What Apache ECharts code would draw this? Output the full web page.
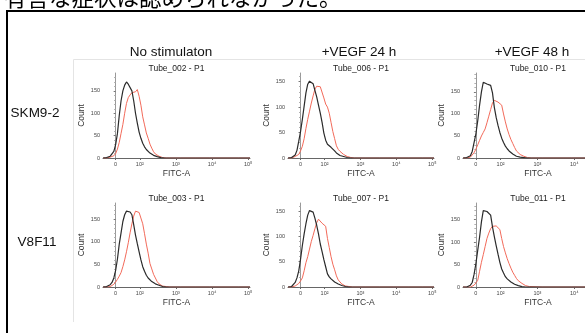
<!DOCTYPE html>
<html><head><meta charset="utf-8">
<script src="https://cdn.jsdelivr.net/npm/echarts@6/dist/echarts.min.js"></script>
<style>html,body{margin:0;padding:0;background:#fff}#c{width:585px;height:333px}</style>
</head><body><div id="c"></div>
<script>
// shared FITC-A display-scale bins (0 = "0", 0.67 = 10^2, 1.67 = 10^3 ...)
const bins = [-0.35,-0.30,-0.25,-0.20,-0.15,-0.10,-0.05,0.00,0.05,0.10,0.15,0.20,0.25,0.30,0.35,0.40,0.45,0.50,0.55,0.60,0.65,0.70,0.75,0.80,0.85,0.90,0.95,1.00,1.05,1.10,1.15,1.20,1.25,1.30,1.35,1.40,1.45,1.50,1.80,2.20,2.60,3.00,3.40,3.72];
const xTickValues = [0, 0.67, 1.67, 2.67, 3.67];
const xTickLabels = ['0','10²','10³','10⁴','10⁵'];
const yTickValues = [0, 50, 100, 150];

const tube002Black = [0,0,1,2,4,8,15,30,55,95,128,150,163,170,165,162,150,128,100,78,58,44,33,25,19,15,11,8,6,4,3,2,1,1,0,0,0,0,0,0,0,0,0,0];
const tube002Red   = [0,0,0,1,2,3,5,10,20,35,55,75,100,122,135,141,146,150,148,153,138,118,92,74,56,44,31,22,14,9,6,4,2,1,1,0,0,0,0,0,0,0,0,0];
const tube006Black = [0,0,1,2,6,15,33,52,76,102,128,145,151,150,146,133,120,104,88,70,49,35,27,24,21,18,14,10,7,5,4,3,2,1,1,0,0,0,0,0,0,0,0,0];
const tube006Red   = [0,0,0,2,3,5,7,14,23,38,58,76,92,108,122,135,141,143,140,137,118,106,100,88,70,52,38,24,17,13,10,7,5,3,1,1,0,0,0,0,0,0,0,0];
const tube010Black = [0,0,1,3,5,15,35,55,85,120,150,172,170,168,167,165,148,115,92,74,58,45,35,27,21,16,12,9,7,4,3,2,1,1,0,0,0,0,0,0,0,0,0,0];
const tube010Red   = [0,0,0,1,2,4,12,20,30,40,50,58,66,80,95,110,125,131,132,127,130,120,100,82,66,53,42,33,24,16,12,8,6,4,2,1,0,0,0,0,0,0,0,0];
const tube003Black = [0,0,1,2,5,10,20,37,62,95,120,145,160,168,171,166,160,138,115,96,78,60,45,35,26,20,16,12,9,7,5,4,2,1,1,0,0,0,0,0,0,0,0,0];
const tube003Red   = [0,0,0,0,1,3,6,11,17,24,32,45,60,78,98,120,140,157,168,170,165,168,140,118,95,75,52,40,28,20,12,7,4,2,1,1,0,0,0,0,0,0,0,0];
const tube007Black = [0,0,1,4,9,18,32,55,82,105,125,142,151,150,148,136,122,105,85,70,54,40,26,20,16,13,10,8,6,5,3,2,1,0,0,0,0,0,0,0,0,0,0,0];
const tube007Red   = [0,0,0,1,2,4,7,12,18,32,48,60,75,90,102,115,127,134,136,126,128,120,96,78,60,45,34,22,14,10,6,4,2,1,1,0,0,0,0,0,0,0,0,0];
const tube011Black = [0,0,0,1,4,10,28,52,82,111,145,170,168,168,165,160,134,112,92,73,55,40,31,23,18,15,11,8,6,4,3,2,1,0,0,0,0,0,0,0,0,0,0,0];
const tube011Red   = [0,0,0,0,0,1,4,9,15,35,55,72,90,108,120,130,135,137,136,135,128,108,90,76,63,52,42,33,26,19,14,11,8,5,3,2,1,1,0,0,0,0,0,0];

const panelTitles = ['Tube_002 - P1','Tube_006 - P1','Tube_010 - P1','Tube_003 - P1','Tube_007 - P1','Tube_011 - P1'];
const blackSets = [tube002Black, tube006Black, tube010Black, tube003Black, tube007Black, tube011Black];
const redSets   = [tube002Red, tube006Red, tube010Red, tube003Red, tube007Red, tube011Red];
const yMax = [190, 167, 193, 186, 166, 187];
const colHeaders = ['No stimulaton', '+VEGF 24 h', '+VEGF 48 h'];
const rowLabels = ['SKM9-2', 'V8F11'];
const topText = '有害な症状は認められなかった。';

// layout
const colLeft = [103, 288, 463];
const colW = [147, 146, 150];
const rowTop = [73, 203];
const rowH = [85, 84];
const headerX = [171, 359, 532];
const rowLabelPos = [[35, 113], [37, 242]];

const font = 'Liberation Sans, Arial, sans-serif';
const grids = [], xAxes = [], yAxes = [], series = [], graphics = [];

for (let i = 0; i < 6; i++) {
  const r = Math.floor(i / 3), c = i % 3;
  grids.push({left: colLeft[c], top: rowTop[r], width: colW[c], height: rowH[r], containLabel: false, outerBoundsMode: 'none'});
  xAxes.push({
    gridIndex: i, type: 'value', min: -0.35, max: 3.72,
    name: 'FITC-A', nameLocation: 'middle', nameGap: 11,
    nameTextStyle: {fontSize: 8.5, color: '#333', fontFamily: font},
    axisLine: {show: true, onZero: false, lineStyle: {color: '#666', width: 1}},
    axisTick: {show: true, length: 2, customValues: xTickValues, lineStyle: {color: '#666'}},
    axisLabel: {customValues: xTickValues, fontSize: 5.5, color: '#444', margin: 3, fontFamily: font,
      formatter: v => { const k = xTickValues.findIndex(t => Math.abs(t - v) < 1e-6); return k >= 0 ? xTickLabels[k] : ''; }},
    splitLine: {show: false}
  });
  yAxes.push({
    gridIndex: i, type: 'value', min: 0, max: yMax[i], interval: 50,
    name: 'Count', nameLocation: 'middle', nameGap: 17,
    nameTextStyle: {fontSize: 8.5, color: '#333', fontFamily: font},
    axisLine: {show: true, lineStyle: {color: '#999', width: 1}},
    axisTick: {show: true, length: 2, customValues: yTickValues, lineStyle: {color: '#777'}},
    minorTick: {show: true, splitNumber: 5, length: 1.5, lineStyle: {color: '#aaa'}},
    axisLabel: {customValues: yTickValues, fontSize: 5.5, color: '#444', margin: 3, fontFamily: font},
    splitLine: {show: false}
  });
  series.push({
    type: 'line', xAxisIndex: i, yAxisIndex: i, showSymbol: false, animation: false,
    data: bins.map((b, k) => [b, redSets[i][k]]),
    lineStyle: {color: '#f26a5a', width: 1}
  });
  series.push({
    type: 'line', xAxisIndex: i, yAxisIndex: i, showSymbol: false, animation: false,
    data: bins.map((b, k) => [b, blackSets[i][k]]),
    lineStyle: {color: '#2b2b2b', width: 1.2}
  });
  graphics.push({type: 'text', x: colLeft[c] + colW[c] / 2, y: rowTop[r] - 4,
    style: {text: panelTitles[i], fontSize: 8.5, fill: '#222', fontFamily: font, align: 'center', verticalAlign: 'middle'}});
}

// outer frame and faint panel frame
graphics.push({type: 'rect', shape: {x: 7, y: 11, width: 640, height: 400},
  style: {fill: null, stroke: '#000', lineWidth: 2}});
graphics.push({type: 'line', shape: {x1: 73.5, y1: 59.5, x2: 600, y2: 59.5}, style: {stroke: '#e4e4e4', lineWidth: 1}});
graphics.push({type: 'line', shape: {x1: 73.5, y1: 59.5, x2: 73.5, y2: 322}, style: {stroke: '#e4e4e4', lineWidth: 1}});

colHeaders.forEach((t, c) => graphics.push({type: 'text', x: headerX[c], y: 52,
  style: {text: t, fontSize: 13.5, fill: '#111', fontFamily: font, align: 'center', verticalAlign: 'middle'}}));
rowLabels.forEach((t, r) => graphics.push({type: 'text', x: rowLabelPos[r][0], y: rowLabelPos[r][1],
  style: {text: t, fontSize: 13.5, fill: '#111', fontFamily: font, align: 'center', verticalAlign: 'middle'}}));
graphics.push({type: 'text', x: 4, y: -3,
  style: {text: topText, fontSize: 22.5, fill: '#000', fontFamily: 'Noto Sans CJK JP', align: 'left', verticalAlign: 'middle'}});

const chart = echarts.init(document.getElementById('c'), null, {renderer: 'canvas'});
chart.setOption({
  animation: false,
  backgroundColor: '#fff',
  grid: grids, xAxis: xAxes, yAxis: yAxes, series: series,
  graphic: {elements: graphics}
});
</script></body></html>
